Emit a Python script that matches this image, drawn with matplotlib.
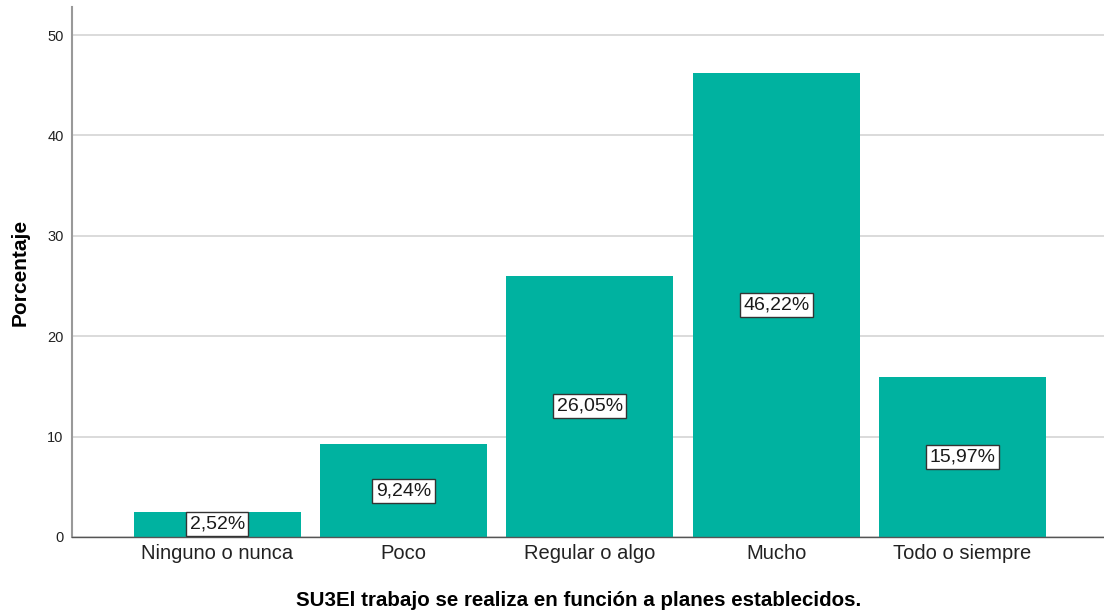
import matplotlib
matplotlib.use("Agg")
import matplotlib.pyplot as plt

categories = ["Ninguno o nunca", "Poco", "Regular o algo", "Mucho", "Todo o siempre"]
values = [2.52, 9.24, 26.05, 46.22, 15.97]
yticks = [0, 10, 20, 30, 40, 50]

plt.rcParams["font.family"] = ["Liberation Sans", "DejaVu Sans"]

fig = plt.figure(figsize=(11.04, 6.11), dpi=100)
ax = fig.add_axes([72 / 1104, 1 - 537 / 611, 1 - 72 / 1104, (537 - 7) / 611])

x = range(len(categories))
ax.bar(x, values, width=0.896, color="#00b2a0", zorder=2)
for xi, v in zip(x, values):
    label = f"{v:.2f}".replace(".", ",") + "%"
    ax.text(xi, v / 2, label, ha="center", va="center", fontsize=14, color="#1a1a1a", zorder=3,
            bbox=dict(boxstyle="square,pad=0.18", fc="white", ec="#333333", lw=1))

ax.set_xlim(-0.78, 4.76)
ax.set_ylim(0, 52.8)
ax.set_yticks(yticks)
ax.set_xticks(list(x))
ax.set_xticklabels(categories, fontsize=14.5, color="#222222")
ax.tick_params(axis="y", labelsize=10.5, length=0, pad=6, colors="#222222")
ax.tick_params(axis="x", length=0, pad=5)
ax.yaxis.grid(True, color="#d4d4d4", lw=1.2, zorder=0)
ax.set_axisbelow(True)
for s in ["top", "right"]:
    ax.spines[s].set_visible(False)
ax.spines["left"].set_color("#999999")
ax.spines["left"].set_linewidth(1.5)
ax.spines["bottom"].set_color("#555555")
ax.spines["bottom"].set_linewidth(1)

fig.text(20 / 1104, 1 - 272 / 611, "Porcentaje", rotation=90, ha="center", va="center",
         fontsize=15, fontweight="bold")
fig.text(579 / 1104, 1 - 600 / 611, "SU3El trabajo se realiza en función a planes establecidos.",
         ha="center", va="center", fontsize=14.8, fontweight="bold")

fig.savefig("out.png", dpi=100)
